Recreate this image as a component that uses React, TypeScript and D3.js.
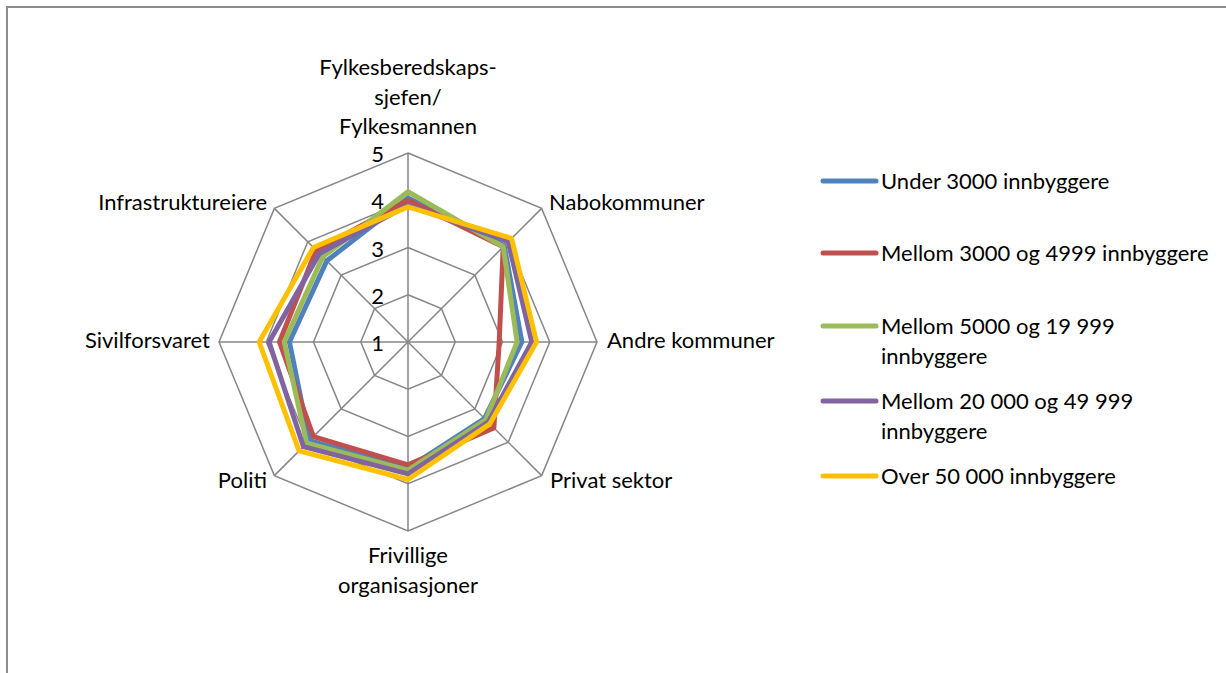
import React, { useEffect, useRef } from 'react';
import * as d3 from 'd3';

// axes, clockwise from the top
const categories: string[][] = [
    ['Fylkesberedskaps-', 'sjefen/', 'Fylkesmannen'],
    ['Nabokommuner'],
    ['Andre kommuner'],
    ['Privat sektor'],
    ['Frivillige', 'organisasjoner'],
    ['Politi'],
    ['Sivilforsvaret'],
    ['Infrastruktureiere'],
];

const seriesNames: string[][] = [
    ['Under 3000 innbyggere'],
    ['Mellom 3000 og 4999 innbyggere'],
    ['Mellom 5000 og 19 999', 'innbyggere'],
    ['Mellom 20 000 og 49 999', 'innbyggere'],
    ['Over 50 000 innbyggere'],
];

const under3000 = [4.05, 3.88, 3.41, 3.29, 3.67, 3.95, 3.51, 3.43];
const mellom3000 = [4.0, 3.85, 2.93, 3.57, 3.6, 3.83, 3.72, 3.75];
const mellom5000 = [4.18, 3.85, 3.31, 3.33, 3.71, 4.03, 3.62, 3.55];
const mellom20000 = [3.9, 4.0, 3.62, 3.4, 3.79, 4.13, 3.94, 3.65];
const over50000 = [3.86, 4.1, 3.72, 3.45, 3.91, 4.26, 4.15, 3.83];

const seriesValues = [under3000, mellom3000, mellom5000, mellom20000, over50000];
const colors = ['#4F81BD', '#C0504D', '#9BBB59', '#8064A2', '#FFC000'];
const ticks = [1, 2, 3, 4, 5];

export default function App() {
    const svgRef = useRef<SVGSVGElement>(null);

    useEffect(() => {
        const svg = d3.select(svgRef.current);
        svg.selectAll('*').remove();

        const font = 'Lato, sans-serif';
        const fs = 22;
        const cx = 408;
        const cy = 342;
        const rScale = d3.scaleLinear().domain([1, 5]).range([0, 189]);
        const angle = (i: number) => (i * 2 * Math.PI) / categories.length;

        // outer frame
        svg.append('rect')
            .attr('x', 7)
            .attr('y', 7)
            .attr('width', 1240)
            .attr('height', 700)
            .attr('fill', 'white')
            .attr('stroke', '#8c8c8c')
            .attr('stroke-width', 2);

        const g = svg.append('g').attr('transform', `translate(${cx},${cy})`);

        // grid rings
        const ring = d3
            .lineRadial<number>()
            .angle((d, i) => angle(i))
            .radius((d) => rScale(d))
            .curve(d3.curveLinearClosed);

        ticks.slice(1).forEach((t) => {
            g.append('path')
                .attr('d', ring(categories.map(() => t)))
                .attr('fill', 'none')
                .attr('stroke', '#868686')
                .attr('stroke-width', 1.5);
        });

        categories.forEach((c, i) => {
            const a = angle(i);
            g.append('line')
                .attr('x1', 0)
                .attr('y1', 0)
                .attr('x2', Math.sin(a) * rScale(5))
                .attr('y2', -Math.cos(a) * rScale(5))
                .attr('stroke', '#868686')
                .attr('stroke-width', 1.5);
        });

        // tick labels
        g.selectAll('text.tick')
            .data(ticks)
            .enter()
            .append('text')
            .attr('class', 'tick')
            .attr('x', -24)
            .attr('y', (d) => -rScale(d) + 9)
            .attr('text-anchor', 'end')
            .attr('font-family', font)
            .attr('font-size', fs)
            .attr('fill', '#000')
            .text((d) => d);

        // series
        seriesValues.forEach((vals, k) => {
            g.append('path')
                .attr('d', ring(vals))
                .attr('fill', 'none')
                .attr('stroke', colors[k])
                .attr('stroke-width', 5)
                .attr('stroke-linejoin', 'round');
        });

        // category labels
        const labelPos = [
            { x: 0, y: -267, anchor: 'middle' },
            { x: 141, y: -132, anchor: 'start' },
            { x: 199, y: 6, anchor: 'start' },
            { x: 142, y: 146, anchor: 'start' },
            { x: 0, y: 221, anchor: 'middle' },
            { x: -141, y: 146, anchor: 'end' },
            { x: -198, y: 6, anchor: 'end' },
            { x: -141, y: -132, anchor: 'end' },
        ];
        categories.forEach((lines, i) => {
            const p = labelPos[i];
            const t = g.append('text')
                .attr('text-anchor', p.anchor)
                .attr('font-family', font)
                .attr('font-size', fs)
                .attr('fill', '#000');
            lines.forEach((l, j) => {
                t.append('tspan')
                    .attr('x', p.x)
                    .attr('y', p.y + j * 29.5)
                    .text(l);
            });
        });

        // legend
        const legY = [181, 253, 326, 401, 476];
        const leg = svg.append('g');
        seriesNames.forEach((lines, k) => {
            leg.append('line')
                .attr('x1', 823)
                .attr('x2', 876)
                .attr('y1', legY[k])
                .attr('y2', legY[k])
                .attr('stroke', colors[k])
                .attr('stroke-width', 5)
                .attr('stroke-linecap', 'round');
            const t = leg.append('text')
                .attr('font-family', font)
                .attr('font-size', fs)
                .attr('fill', '#000');
            lines.forEach((l, j) => {
                t.append('tspan')
                    .attr('x', 881)
                    .attr('y', legY[k] + 8 + j * 30)
                    .text(l);
            });
        });
    }, []);

    return (
        <svg
            ref={svgRef}
            width={1226}
            height={673}
            style={{ position: 'absolute', left: 0, top: 0, background: '#fff' }}
        />
    );
}
